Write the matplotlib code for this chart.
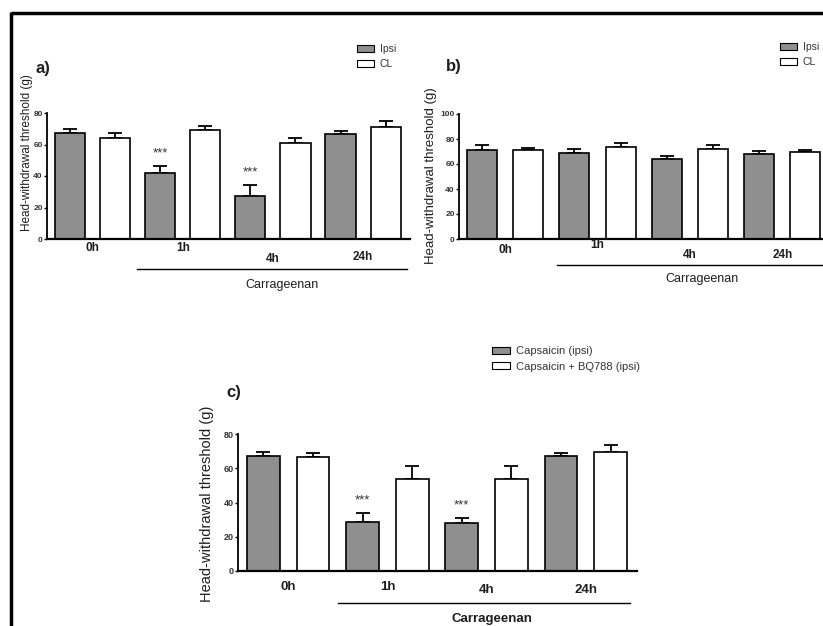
import matplotlib
matplotlib.use("Agg")
import matplotlib.pyplot as plt
import matplotlib.transforms as mtransforms
from matplotlib.patches import Patch
import numpy as np

plt.rcParams['font.family'] = ['Liberation Sans', 'DejaVu Sans']

# ---------------- data ----------------
time_labels = ["0h", "1h", "4h", "24h"]
group_label = "Carrageenan"
ylabel = "Head-withdrawal threshold (g)"

a_ipsi = [67.3, 42.1, 27.5, 66.7]
a_ipsi_err = [2.8, 4.0, 6.8, 1.7]
a_cl = [63.9, 69.4, 61.2, 71.1]
a_cl_err = [3.2, 2.1, 2.9, 3.6]
a_sig = [False, True, True, False]

b_ipsi = [70.9, 69.1, 64.3, 67.7]
b_ipsi_err = [4.0, 2.6, 1.8, 2.4]
b_cl = [70.9, 73.3, 72.0, 69.9]
b_cl_err = [1.6, 3.5, 3.5, 1.3]
b_sig = [False, False, False, False]

c_caps = [66.9, 28.4, 27.8, 66.9]
c_caps_err = [2.4, 5.3, 3.1, 2.0]
c_bq = [66.5, 54.0, 53.6, 69.5]
c_bq_err = [2.2, 7.4, 8.0, 3.9]
c_sig = [False, True, True, False]

legend_ab = ["Ipsi", "CL"]
legend_c = ["Capsaicin (ipsi)", "Capsaicin + BQ788 (ipsi)"]

GRAY = "#8f8f8f"
TXT = "#1e1e1e"
W, H = 823, 626

fig = plt.figure(figsize=(W / 100, H / 100), dpi=100)


def ax_px(left, top, right, bottom):
    return fig.add_axes([left / W, 1 - bottom / H, (right - left) / W, (bottom - top) / H])


def fxy(x, y):
    return x / W, 1 - y / H


def panel(ax, s1, e1, s2, e2, sig, ymax, ystep, xlim, barw, tick_fs, tick_y,
          line_y, line_x, text_y, text_x, carr_fs, carr_w, tickw, star_off):
    n = len(s1)
    x1 = np.arange(n) * 2
    x2 = x1 + 1
    ax.bar(x1, s1, width=barw, color=GRAY, edgecolor="black", linewidth=1.2, zorder=2)
    ax.bar(x2, s2, width=barw, color="white", edgecolor="black", linewidth=1.2, zorder=2)
    ax.errorbar(x1, s1, yerr=[np.zeros(n), e1], fmt="none", ecolor="black",
                elinewidth=1.3, capsize=5, capthick=1.3, zorder=1)
    ax.errorbar(x2, s2, yerr=[np.zeros(n), e2], fmt="none", ecolor="black",
                elinewidth=1.3, capsize=5, capthick=1.3, zorder=1)
    for xi, v, e, s in zip(x1, s1, e1, sig):
        if s:
            ax.text(xi, v + e + star_off, "***", ha="center", va="center", fontsize=9.5,
                    color="#333333")
    ax.set_xlim(*xlim)
    ax.set_ylim(0, ymax)
    ax.set_yticks(np.arange(0, ymax + 1, ystep))
    ax.set_xticks([])
    for sp in ["top", "right"]:
        ax.spines[sp].set_visible(False)
    ax.spines["left"].set_linewidth(1.3)
    ax.spines["bottom"].set_linewidth(1.6)
    ax.tick_params(axis="y", length=2.5, width=1, pad=0.5, labelsize=tick_fs, labelcolor="#333333")
    for lab in ax.get_yticklabels():
        lab.set_fontweight("bold")
    trans = mtransforms.blended_transform_factory(ax.transData, ax.transAxes)
    for i, lab in enumerate(time_labels):
        ax.text(i * 2 + 0.5, tick_y[i], lab, transform=trans, ha="center", va="center",
                fontsize=tickw, fontweight="bold", color=TXT, clip_on=False)
    ax.plot(line_x, [line_y, line_y], transform=trans, color="black", lw=1.0, clip_on=False)
    ax.text(text_x, text_y, group_label, transform=trans, ha="center", va="center",
            fontsize=carr_fs, fontweight=carr_w, color=TXT, clip_on=False)


# panel a
ax_a = ax_px(47, 113, 410, 239)
panel(ax_a, a_ipsi, a_ipsi_err, a_cl, a_cl_err, a_sig, 80, 20, (-0.51, 7.54), 0.67, 6,
      [-0.071, -0.071, -0.159, -0.143], -0.238, [1.49, 7.47], -0.365, 4.7, 9, "normal", 8.5, 8)
# panel b
ax_b = ax_px(459, 114, 823, 239)
panel(ax_b, b_ipsi, b_ipsi_err, b_cl, b_cl_err, b_sig, 100, 20, (-0.5, 7.38), 0.65, 6,
      [-0.088, -0.048, -0.128, -0.128], -0.208, [1.62, 7.38], -0.32, 4.76, 9, "normal", 8.5, 8)
# panel c
ax_c = ax_px(238, 434, 637, 571)
panel(ax_c, c_caps, c_caps_err, c_bq, c_bq_err, c_sig, 80, 20, (-0.51, 7.53), 0.66, 6.5,
      [-0.12, -0.12, -0.14, -0.14], -0.237, [1.51, 7.38], -0.347, 4.6, 9.5, "bold", 9.5, 7.5)

# y labels
fig.text(*fxy(27, 153), ylabel, rotation=90, ha="center", va="center", fontsize=8.5, color=TXT)
fig.text(*fxy(431, 176), ylabel, rotation=90, ha="center", va="center", fontsize=9.5, color=TXT)
fig.text(*fxy(207, 504), ylabel, rotation=90, ha="center", va="center", fontsize=10.5, color=TXT)

# panel letters
fig.text(*fxy(43, 68), "a)", ha="center", va="center", fontsize=12, fontweight="bold", color=TXT)
fig.text(*fxy(454, 67), "b)", ha="center", va="center", fontsize=12, fontweight="bold", color=TXT)
fig.text(*fxy(234, 392), "c)", ha="center", va="center", fontsize=12, fontweight="bold", color=TXT)

# legends
def legend(labels, x, y, fs):
    handles = [Patch(facecolor=GRAY, edgecolor="black", linewidth=0.8),
               Patch(facecolor="white", edgecolor="black", linewidth=0.8)]
    fig.legend(handles, labels, loc="upper left", bbox_to_anchor=fxy(x, y), frameon=False,
               fontsize=fs, handlelength=1.6, handleheight=0.6, handletextpad=0.6,
               labelspacing=0.5, borderaxespad=0, borderpad=0, labelcolor="#333333")

legend(legend_ab, 357, 44, 7.5)
legend(legend_ab, 780, 42, 7.5)
legend(legend_c, 492, 346, 8)

# border lines (top and left)
fig.add_artist(plt.Line2D([10.5 / W, 1], [1 - 12.5 / H, 1 - 12.5 / H], color="black", lw=2.5,
                          transform=fig.transFigure, solid_capstyle="butt"))
fig.add_artist(plt.Line2D([10.5 / W, 10.5 / W], [0, 1 - 11.5 / H], color="black", lw=2.5,
                          transform=fig.transFigure, solid_capstyle="butt"))

fig.savefig("out.png", dpi=100)
